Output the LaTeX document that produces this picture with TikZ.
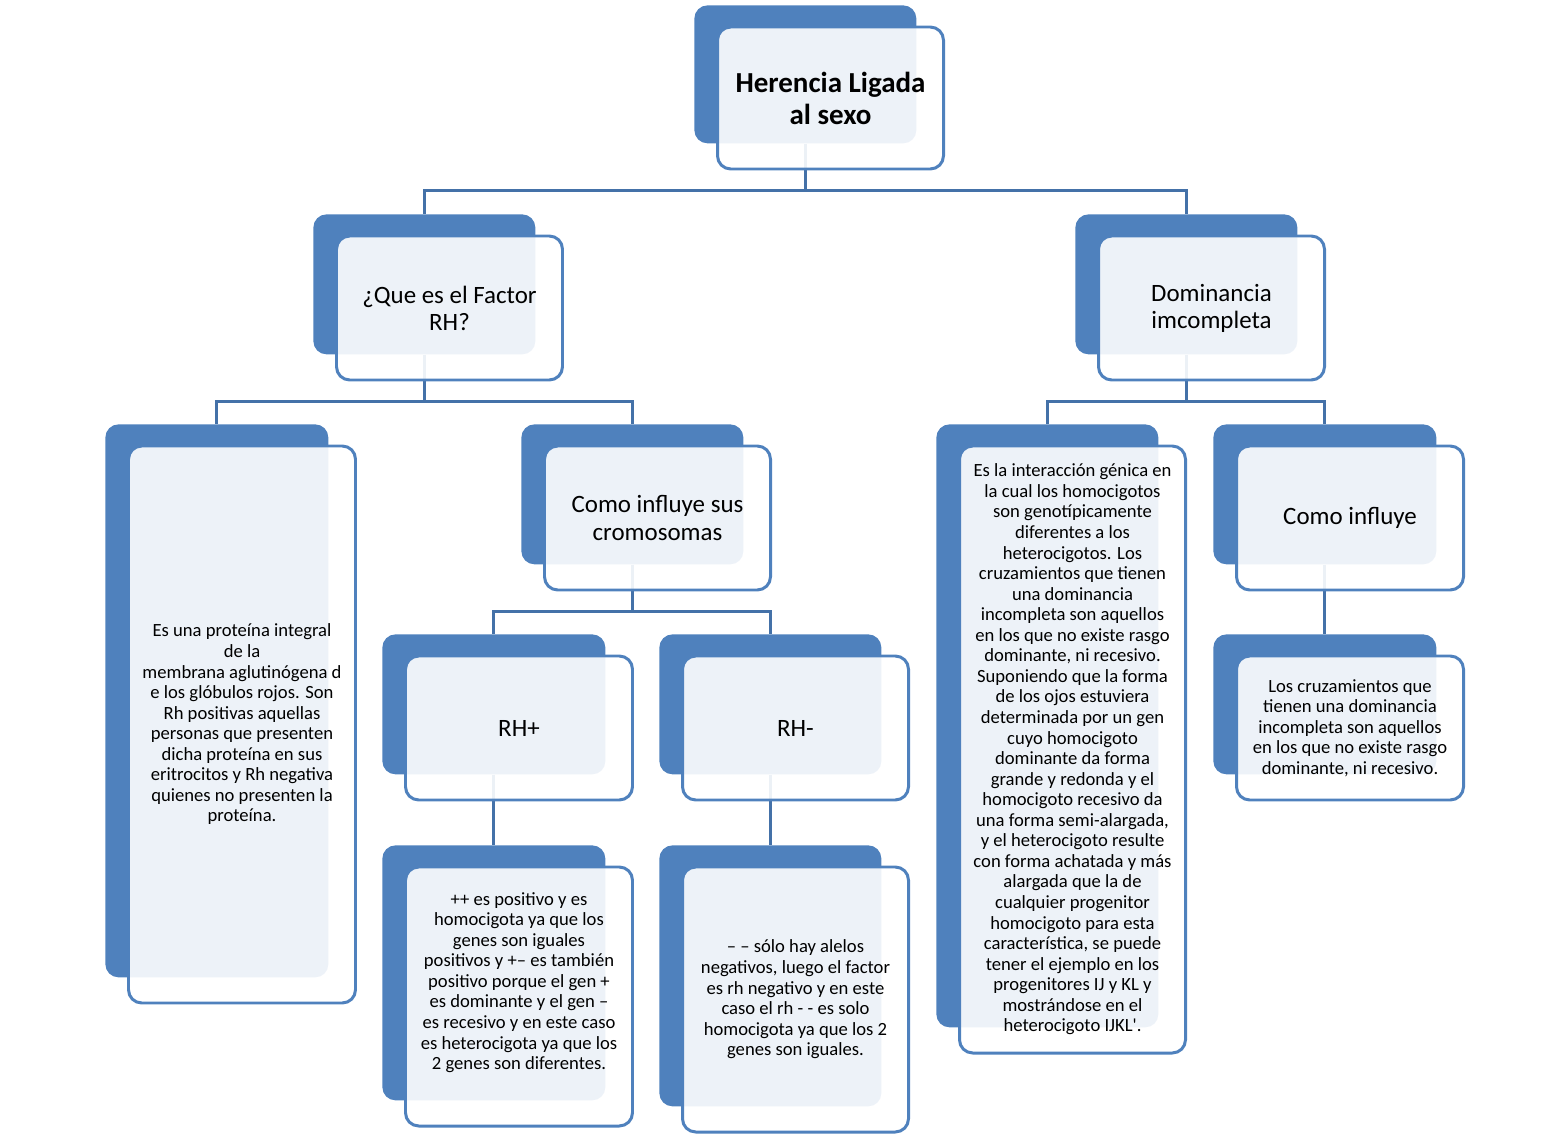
\documentclass[tikz,border=0pt]{standalone}
\usepackage{fontspec}
\setmainfont{Carlito}
\definecolor{azul}{RGB}{79,129,189}
\definecolor{linea}{RGB}{68,113,168}
\begin{document}
\begin{tikzpicture}[x=0.02cm, y=-0.02cm, font=\fontsize{10.6}{11.7}\selectfont,
  atras/.style={anchor=north west, fill=azul, rounded corners=7.5pt, inner sep=0pt},
  frente/.style={anchor=north west, draw=azul, line width=1.7pt, fill=white, fill opacity=0.9, text opacity=1, rounded corners=7.5pt, align=center, inner sep=2pt, outer sep=0pt},
  conector/.style={draw=linea, line width=1.7pt},
  grande/.style={font=\fontsize{14.2}{15.4}\selectfont}]
  \useasboundingbox (0,0) rectangle (1566,1135);
  % Cajas de fondo
  \foreach \n/\x/\y/\w/\h in {tit/694/5/222/138, fac/313/214/222/140, dom/1075/214/222/140, prot/105/424/223/553, cro/521/424/222/140, int/936/424/222/603, inf/1213/424/223/140, mas/382/634/223/140, men/659/634/222/140, cru/1213/634/223/140, masT/382/845/223/255, menT/659/845/222/261}
    \node[atras, minimum width=\w*0.02cm, minimum height=\h*0.02cm] (\n) at (\x,\y) {};
  % Conectores
  \foreach \a/\b in {tit/fac, tit/dom, fac/prot, fac/cro, dom/int, dom/inf, cro/mas, cro/men} \draw[conector] (\a.south) -- ++(0,47) -| (\b.north);
  \foreach \a/\b in {mas/masT, men/menT, inf/cru} \draw[conector] (\a.south) -- (\b.north);
  % Cajas de texto
  \node[frente, minimum width=226*0.02cm, minimum height=142*0.02cm, font=\fontsize{16.5}{18.2}\selectfont\bfseries] (titF) at ([shift={(23.5,22)}]tit.north west) {Herencia Ligada\\al sexo};
  \node[frente, grande, minimum width=226*0.02cm, minimum height=144*0.02cm] (facF) at ([shift={(23.5,22)}]fac.north west) {¿Que es el Factor\\RH?};
  \node[frente, grande, minimum width=226*0.02cm, minimum height=144*0.02cm] (domF) at ([shift={(23.5,22)}]dom.north west) {Dominancia\\imcompleta};
  \node[frente, minimum width=227*0.02cm, minimum height=557*0.02cm] (protF) at ([shift={(23.5,22)}]prot.north west) {Es una proteína integral\\de la\\membrana aglutinógena d\\e los glóbulos rojos. Son\\Rh positivas aquellas\\personas que presenten\\dicha proteína en sus\\eritrocitos y Rh negativa\\quienes no presenten la\\proteína.};
  \node[frente, grande, minimum width=226*0.02cm, minimum height=144*0.02cm] (croF) at ([shift={(23.5,22)}]cro.north west) {Como influye sus\\cromosomas};
  \node[frente, minimum width=226*0.02cm, minimum height=607*0.02cm] (intF) at ([shift={(23.5,22)}]int.north west) {Es la interacción génica en\\la cual los homocigotos\\son genotípicamente\\diferentes a los\\heterocigotos. Los\\cruzamientos que tienen\\una dominancia\\incompleta son aquellos\\en los que no existe rasgo\\dominante, ni recesivo.\\Suponiendo que la forma\\de los ojos estuviera\\determinada por un gen\\cuyo homocigoto\\dominante da forma\\grande y redonda y el\\homocigoto recesivo da\\una forma semi-alargada,\\y el heterocigoto resulte\\con forma achatada y más\\alargada que la de\\cualquier progenitor\\homocigoto para esta\\característica, se puede\\tener el ejemplo en los\\progenitores IJ y KL y\\mostrándose en el\\heterocigoto IJKL\textquotesingle.};
  \node[frente, grande, minimum width=227*0.02cm, minimum height=144*0.02cm] (infF) at ([shift={(23.5,22)}]inf.north west) {Como influye};
  \node[frente, grande, minimum width=227*0.02cm, minimum height=144*0.02cm] (masF) at ([shift={(23.5,22)}]mas.north west) {RH+};
  \node[frente, grande, minimum width=226*0.02cm, minimum height=144*0.02cm] (menF) at ([shift={(23.5,22)}]men.north west) {RH-};
  \node[frente, minimum width=227*0.02cm, minimum height=144*0.02cm] (cruF) at ([shift={(23.5,22)}]cru.north west) {Los cruzamientos que\\tienen una dominancia\\incompleta son aquellos\\en los que no existe rasgo\\dominante, ni recesivo.};
  \node[frente, minimum width=227*0.02cm, minimum height=259*0.02cm] (masTF) at ([shift={(23.5,22)}]masT.north west) {};
  \node[align=center] (masTxt) at ([shift={(0,-14)}]masTF.center) {++ es positivo y es\\homocigota ya que los\\genes son iguales\\positivos y +– es también\\positivo porque el gen +\\es dominante y el gen –\\es recesivo y en este caso\\es heterocigota ya que los\\2 genes son diferentes.};
  \node[frente, minimum width=226*0.02cm, minimum height=265*0.02cm] (menTF) at ([shift={(23.5,22)}]menT.north west) {– – sólo hay alelos\\negativos, luego el factor\\es rh negativo y en este\\caso el rh - - es solo\\homocigota ya que los 2\\genes son iguales.};
\end{tikzpicture}
\end{document}
